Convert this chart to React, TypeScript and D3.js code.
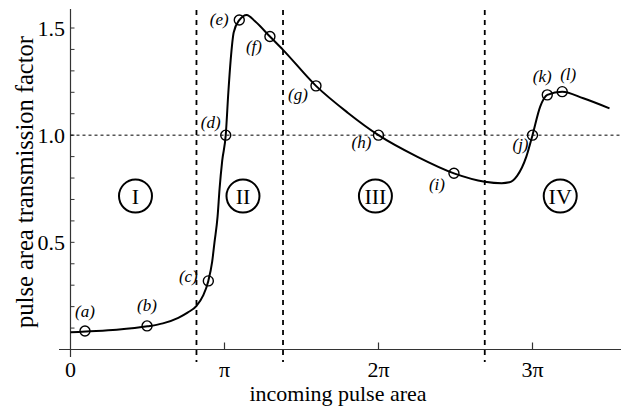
import React from "react";
import * as d3 from "d3";

const width = 623;
const height = 409;

// curve samples, x in units of pi
const curveX = [0, 0.1, 0.3, 0.5, 0.6, 0.7, 0.76, 0.82, 0.86, 0.895, 0.92, 0.935, 0.955, 0.968, 0.985, 1.008, 1.025, 1.04, 1.06, 1.096, 1.144, 1.2, 1.295, 1.38, 1.594, 1.8, 2.0, 2.25, 2.49, 2.69, 2.8, 2.85, 2.9, 2.96, 3.0, 3.05, 3.096, 3.193, 3.33, 3.5];
const curveY = [0.08, 0.084, 0.092, 0.108, 0.122, 0.148, 0.172, 0.205, 0.25, 0.32, 0.41, 0.5, 0.62, 0.75, 0.88, 1.0, 1.2, 1.35, 1.48, 1.537, 1.561, 1.53, 1.46, 1.398, 1.23, 1.105, 1.0, 0.9, 0.822, 0.783, 0.776, 0.78, 0.81, 0.9, 1.0, 1.133, 1.188, 1.203, 1.172, 1.125];

const markerX = [0.094, 0.497, 0.895, 1.008, 1.096, 1.295, 1.594, 2.0, 2.49, 3.0, 3.096, 3.193];
const markerY = [0.086, 0.11, 0.32, 1.0, 1.537, 1.46, 1.23, 1.0, 0.822, 1.0, 1.188, 1.203];
const markerLabels = ["(a)", "(b)", "(c)", "(d)", "(e)", "(f)", "(g)", "(h)", "(i)", "(j)", "(k)", "(l)"];
// label offsets from the marker, px
const labelOffsets = [[0, -19], [0, -20], [-20, -4], [-15, -12], [-20, 0], [-16, 11], [-18, 10], [-17, 8], [-17, 12], [-12, 10], [-5, -17], [6, -16]];

const boundaries = [0.818, 1.38, 2.69];
const regionNames = ["I", "II", "III", "IV"];
const regionX = [0.422, 1.12, 1.98, 3.18];
const regionY = 0.716;

const xTicks = [0, 1, 2, 3];
const xTickLabels = ["0", "π", "2π", "3π"];
const yMinorTicks = d3.range(1, 16).map(d => d / 10);
const yTicks = [0.5, 1.0, 1.5];

const font = "'Liberation Serif', 'Times New Roman', serif";

const x = d3.scaleLinear().domain([0, 3]).range([70.5, 532.5]);
const y = d3.scaleLinear().domain([0, 1.5]).range([349.5, 28]);

export default function App() {
  const pts: [number, number][] = curveX.map((d, i) => [d, curveY[i]]);
  const line = d3
    .line<[number, number]>()
    .x(d => x(d[0]))
    .y(d => y(d[1]))
    .curve(d3.curveMonotoneX);

  return (
    <svg width={width} height={height} style={{ position: "absolute", left: 0, top: 0 }} fontFamily={font}>
      <rect width={width} height={height} fill="#fff" />

      {/* axes */}
      <line x1={59} x2={621} y1={y(0)} y2={y(0)} stroke="#333" strokeWidth={1.2} />
      <line x1={x(0)} x2={x(0)} y1={9} y2={357} stroke="#333" strokeWidth={1.2} />
      {yMinorTicks.map(t => (
        <line key={t} x1={x(0)} x2={x(0) + 4} y1={y(t)} y2={y(t)} stroke="#333" strokeWidth={1} />
      ))}
      {yTicks.map(t => (
        <text key={t} x={65} y={y(t)} dy="0.36em" textAnchor="end" fontSize={22}>
          {d3.format(".1f")(t)}
        </text>
      ))}
      {xTicks.slice(1).map(t => (
        <line key={t} x1={x(t)} x2={x(t)} y1={y(0)} y2={y(0) - 7} stroke="#333" strokeWidth={1.2} />
      ))}
      {xTicks.map((t, i) => (
        <text key={t} x={x(t)} y={377} textAnchor="middle" fontSize={22}>
          {xTickLabels[i]}
        </text>
      ))}
      <text x={338} y={401} textAnchor="middle" fontSize={22}>
        incoming pulse area
      </text>
      <text transform="translate(33,182) rotate(-90)" textAnchor="middle" fontSize={24.5}>
        pulse area transmission factor
      </text>

      {/* reference lines */}
      <line x1={x(0)} x2={622} y1={y(1)} y2={y(1)} stroke="#000" strokeWidth={1} strokeDasharray="3,3" />
      {boundaries.map(b => (
        <line key={b} x1={x(b)} x2={x(b)} y1={10} y2={362} stroke="#000" strokeWidth={1.8} strokeDasharray="5,5" />
      ))}

      {/* curve */}
      <path d={line(pts) || ""} fill="none" stroke="#000" strokeWidth={2} />

      {/* markers */}
      {markerX.map((mx, i) => (
        <g key={markerLabels[i]}>
          <circle cx={x(mx)} cy={y(markerY[i])} r={5} fill="none" stroke="#000" strokeWidth={1.4} />
          <text
            x={x(mx) + labelOffsets[i][0]}
            y={y(markerY[i]) + labelOffsets[i][1]}
            dy="0.27em"
            textAnchor="middle"
            fontSize={17}
            fontStyle="italic"
          >
            {markerLabels[i]}
          </text>
        </g>
      ))}

      {/* region labels */}
      {regionNames.map((r, i) => (
        <g key={r}>
          <circle cx={x(regionX[i])} cy={y(regionY)} r={16.5} fill="none" stroke="#000" strokeWidth={2} />
          <text x={x(regionX[i])} y={y(regionY)} dy="0.34em" textAnchor="middle" fontSize={22}>
            {r}
          </text>
        </g>
      ))}
    </svg>
  );
}
